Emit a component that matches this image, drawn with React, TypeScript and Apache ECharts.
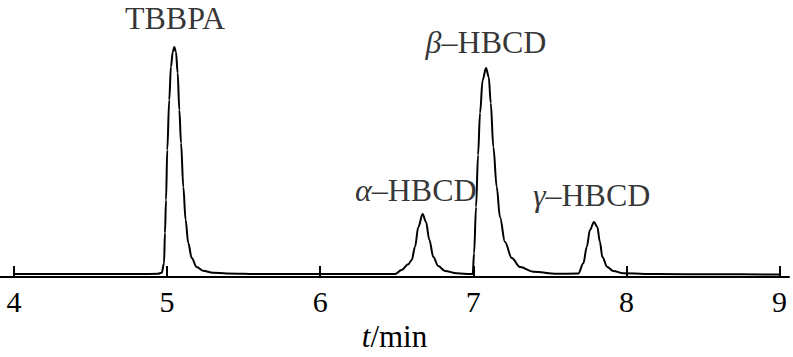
import React, { useEffect, useRef } from "react";
import * as echarts from "echarts";

// retention time (min) and detector signal (arbitrary units above axis)
const times = [
  4.0, 4.4, 4.823, 4.94, 4.965, 4.98, 4.986, 4.993, 5.001, 5.014, 5.025, 5.037, 5.047,
  5.058, 5.069, 5.08, 5.091, 5.106, 5.121, 5.138, 5.161, 5.193, 5.234, 5.3, 5.389, 5.6,
  6.0, 6.3, 6.489, 6.532, 6.575, 6.598, 6.619, 6.641, 6.669, 6.691, 6.713, 6.739, 6.771,
  6.815, 6.892, 6.983, 6.996, 7.005, 7.018, 7.031, 7.044, 7.061, 7.083, 7.101, 7.114,
  7.131, 7.153, 7.174, 7.207, 7.251, 7.305, 7.392, 7.545, 7.686, 7.719, 7.741, 7.762,
  7.788, 7.81, 7.827, 7.843, 7.875, 7.914, 7.98, 8.2, 8.6, 9.0,
];
const signal = [
  3, 3, 3, 3.2, 4.3, 13.7, 44, 77, 127, 177, 210, 225, 230,
  225, 204, 167, 134, 90, 57, 34, 19, 10, 6.3, 4.3, 3.5, 3,
  3, 3, 3, 7, 12.7, 17, 30, 50, 63, 55, 37, 20, 11,
  6, 3.7, 3, 3, 23.7, 70, 122, 164, 197, 209, 200, 174,
  130, 90, 60, 35, 19, 10, 5.3, 3.2, 3.5, 13.7, 30, 47,
  55, 50, 35, 20, 10, 6, 3.7, 3, 2.7, 2.5,
];

const tickValues = [4, 5, 6, 7, 8, 9];

// peak labels: greek prefix, compound name, anchor position (t, signal)
const labelPrefix = ["", "α", "β", "γ"];
const labelNames = ["TBBPA", "HBCD", "HBCD", "HBCD"];
const labelT = [5.052, 6.624, 7.083, 7.773];
const labelV = [259, 87, 235, 82];

const FONT = "Liberation Serif";

export default function App() {
  const ref = useRef<HTMLDivElement>(null);
  useEffect(() => {
    if (!ref.current) return;
    const chart = echarts.init(ref.current, null, { renderer: "svg" });
    const lineData = times.map((t, i) => [t, signal[i]]);
    const labelData = labelT.map((t, i) => ({
      value: [t, labelV[i]],
      name: (labelPrefix[i] ? "{g|" + labelPrefix[i] + "}–" : "") + labelNames[i],
    }));
    chart.setOption({
      animation: false,
      backgroundColor: "#ffffff",
      textStyle: { fontFamily: FONT },
      grid: { left: 0, right: 4, top: 12, bottom: 80 },
      xAxis: {
        type: "value",
        min: 3.9086,
        max: 9.062,
        name: "{i|t}/min",
        nameLocation: "middle",
        nameGap: 38,
        nameTextStyle: {
          fontFamily: FONT,
          fontSize: 31,
          color: "#000",
          rich: {
            i: { fontFamily: FONT, fontSize: 31, fontStyle: "italic", color: "#000" },
          },
        },
        axisLine: { show: true, lineStyle: { color: "#000", width: 2 } },
        axisTick: {
          show: true,
          inside: true,
          length: 11,
          customValues: tickValues,
          lineStyle: { color: "#000", width: 2 },
        },
        axisLabel: {
          show: true,
          customValues: tickValues,
          fontFamily: FONT,
          fontSize: 30,
          color: "#000",
          margin: 9,
        },
        splitLine: { show: false },
      },
      yAxis: {
        type: "value",
        min: 0,
        max: 265,
        show: false,
        splitLine: { show: false },
      },
      series: [
        {
          type: "line",
          data: lineData,
          showSymbol: false,
          smooth: 0.35,
          smoothMonotone: "x",
          lineStyle: { color: "#000", width: 2 },
          silent: true,
        },
        {
          type: "scatter",
          data: labelData,
          symbolSize: 0,
          silent: true,
          label: {
            show: true,
            position: "inside",
            formatter: (p: any) => p.name,
            fontFamily: FONT,
            fontSize: 32,
            color: "#000",
            rich: {
              g: { fontFamily: FONT, fontSize: 32, fontStyle: "italic", color: "#000" },
            },
          },
        },
      ],
    });
    return () => chart.dispose();
  }, []);
  return (
    <div
      ref={ref}
      style={{ position: "fixed", left: 0, top: 0, width: 793, height: 357, background: "#fff" }}
    />
  );
}
